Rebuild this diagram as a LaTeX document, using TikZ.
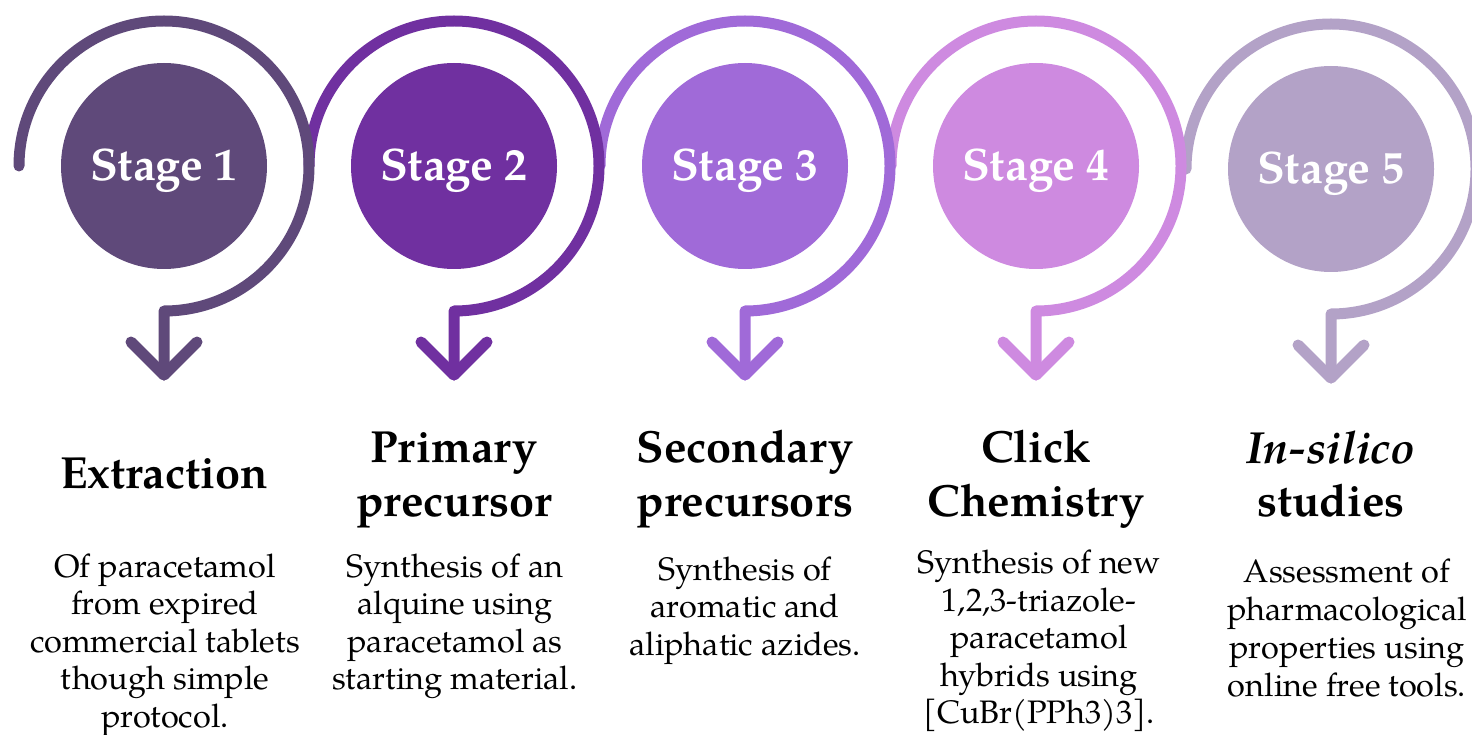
\documentclass[tikz,border=0pt]{standalone}
\usepackage{fontspec}
\setmainfont{texgyrepagella}[Extension=.otf, UprightFont=*-regular, BoldFont=*-bold, ItalicFont=*-italic, BoldItalicFont=*-bolditalic]
\definecolor{cA}{HTML}{5F497A}
\definecolor{cB}{HTML}{7030A0}
\definecolor{cC}{HTML}{A06AD8}
\definecolor{cD}{HTML}{CE8AE0}
\definecolor{cE}{HTML}{B3A2C7}
\tikzset{
  ringline/.style={line width=11pt, line cap=round, line join=round},
  disc/.style={circle, minimum size=206pt, inner sep=0pt},
  stagetxt/.style={text=white, font=\fontsize{45.5}{52}\selectfont\bfseries, anchor=base, inner sep=0pt},
  ttl/.style={font=\fontsize{45}{52}\selectfont\bfseries, anchor=base, inner sep=0pt},
  body/.style={font=\fontsize{32.5}{38}\selectfont, anchor=base, inner sep=0pt},
}
\begin{document}
\begin{tikzpicture}[x=1pt,y=-1pt]
\useasboundingbox (0,0) rectangle (1472,735);
% rings and arrows (later stages first)
\foreach \i/\cx/\cy/\col in {5/1331/169/cE, 4/1036/166/cD, 3/745/166/cC, 2/454/166/cB, 1/164/166/cA}{
  \coordinate (rs\i) at (\cx-145,\cy);
  \coordinate (tip\i) at (\cx,\cy+209);
  \coordinate (wl\i) at (\cx-33,\cy+176);
  \coordinate (wr\i) at (\cx+33,\cy+176);
  \draw[ringline, draw=\col] (rs\i) arc[start angle=180, end angle=450, radius=145] -- (tip\i);
  \draw[ringline, draw=\col] (wl\i) -- (tip\i) -- (wr\i);
  \node[disc, fill=\col] (disc\i) at (\cx,\cy) {};
  \node[stagetxt] (st\i) at (\cx,\cy+15) {Stage \i};
}
% titles
\node[ttl] (t1) at (164,488) {Extraction};
\node[ttl] (t2a) at (454,462) {Primary};
\node[ttl] (t2b) at (454,516) {precursor};
\node[ttl] (t3a) at (745,462) {Secondary};
\node[ttl] (t3b) at (745,516) {precursors};
\node[ttl] (t4a) at (1036,462) {Click};
\node[ttl] (t4b) at (1036,516) {Chemistry};
\node[ttl] (t5a) at (1331,463) {\itshape In-silico};
\node[ttl] (t5b) at (1331,516) {studies};
% bodies
\foreach \t [count=\k] in {Of paracetamol, from expired, commercial tablets, though simple, protocol.}
  \node[body] (b1-\k) at (165,577+37.5*\k-37.5) {\t};
\foreach \t [count=\k] in {Synthesis of an, alquine using, paracetamol as, starting material.}
  \node[body] (b2-\k) at (455,577+37.5*\k-37.5) {\t};
\foreach \t [count=\k] in {Synthesis of, aromatic and, aliphatic azides.}
  \node[body] (b3-\k) at (745,580+37.5*\k-37.5) {\t};
\foreach \t [count=\k] in {Synthesis of new, {1,2,3-triazole-}, paracetamol, hybrids using, {[CuBr(PPh3)3].}}
  \node[body] (b4-\k) at (1039,573.5+37.5*\k-37.5) {\t};
\foreach \t [count=\k] in {Assessment of, pharmacological, properties using, online free tools.}
  \node[body] (b5-\k) at (1347,582+38*\k-38) {\t};
\end{tikzpicture}
\end{document}
